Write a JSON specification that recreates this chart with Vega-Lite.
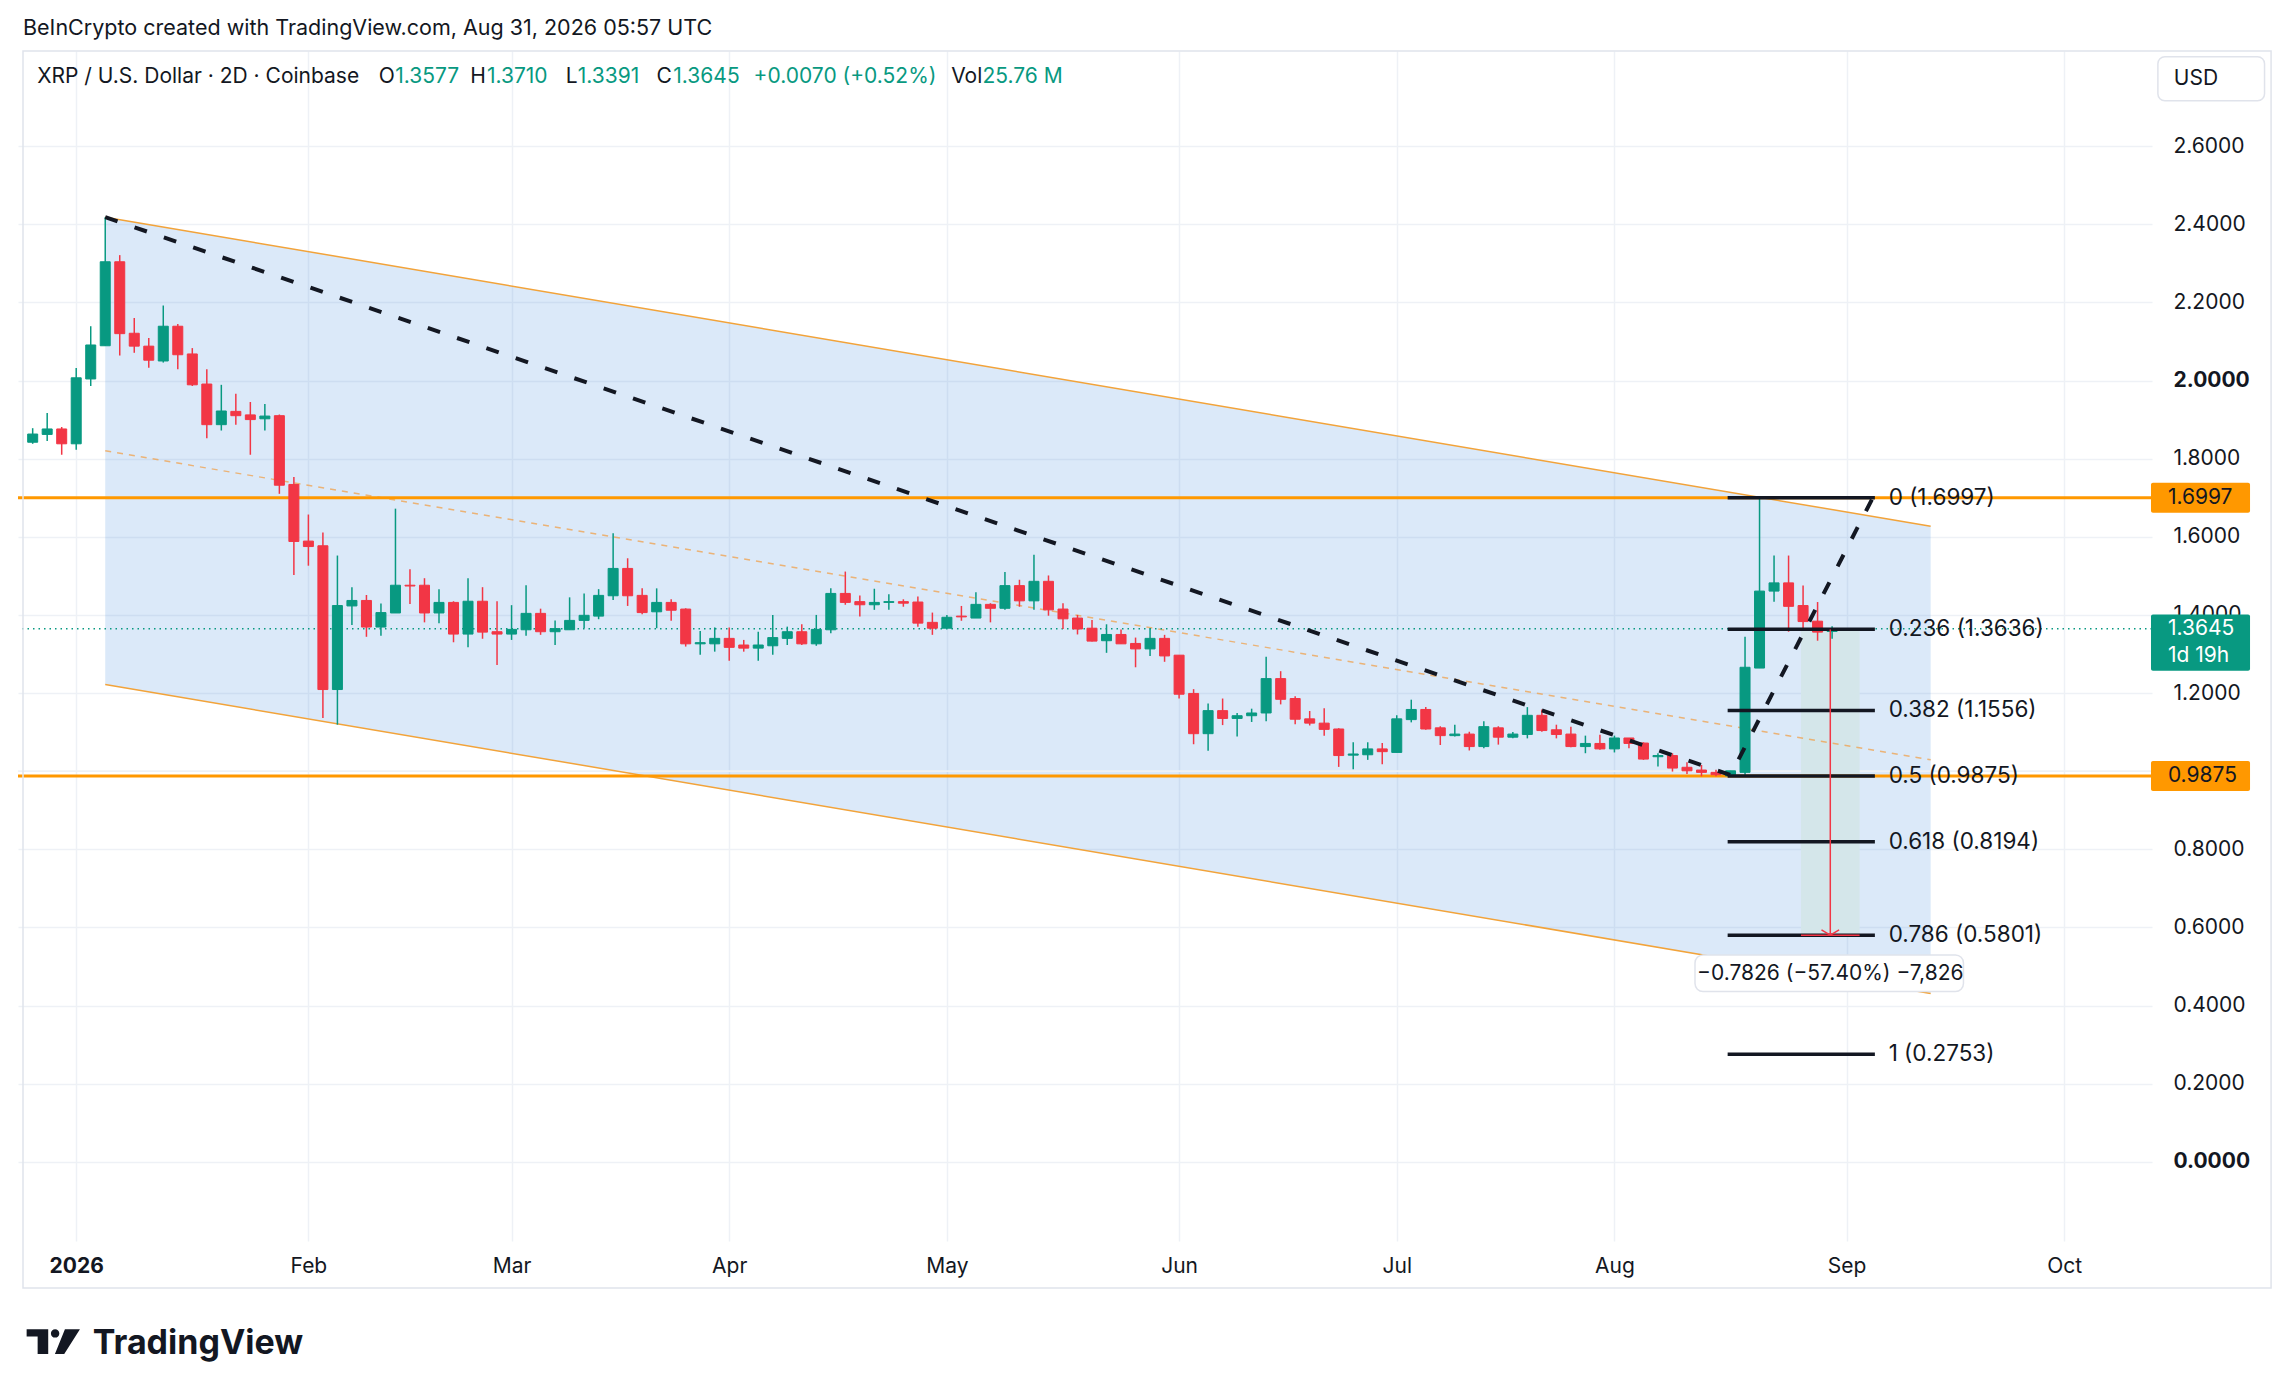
{
  "$schema": "https://vega.github.io/schema/vega-lite/v6.json",
  "width": 2134,
  "height": 1190,
  "autosize": {"type": "none"},
  "padding": {"left": 18, "top": 51, "right": 143, "bottom": 156},
  "background": "white",
  "config": {"view": {"stroke": null}, "font": "Inter", "text": {"font": "Inter", "color": "#131722"}},
  "datasets": {
    "ohlc": [
      {"t": "2025-12-26", "o": 1.842, "h": 1.878, "l": 1.838, "c": 1.863},
      {"t": "2025-12-28", "o": 1.862, "h": 1.917, "l": 1.845, "c": 1.876},
      {"t": "2025-12-30", "o": 1.876, "h": 1.881, "l": 1.810, "c": 1.838},
      {"t": "2026-01-01", "o": 1.838, "h": 2.032, "l": 1.823, "c": 2.007},
      {"t": "2026-01-03", "o": 2.004, "h": 2.139, "l": 1.986, "c": 2.091},
      {"t": "2026-01-05", "o": 2.089, "h": 2.418, "l": 2.089, "c": 2.304},
      {"t": "2026-01-07", "o": 2.304, "h": 2.321, "l": 2.064, "c": 2.120},
      {"t": "2026-01-09", "o": 2.121, "h": 2.160, "l": 2.071, "c": 2.088},
      {"t": "2026-01-11", "o": 2.088, "h": 2.109, "l": 2.033, "c": 2.052},
      {"t": "2026-01-13", "o": 2.050, "h": 2.192, "l": 2.046, "c": 2.139},
      {"t": "2026-01-15", "o": 2.139, "h": 2.145, "l": 2.029, "c": 2.066},
      {"t": "2026-01-17", "o": 2.068, "h": 2.083, "l": 1.986, "c": 1.989},
      {"t": "2026-01-19", "o": 1.991, "h": 2.029, "l": 1.852, "c": 1.887},
      {"t": "2026-01-21", "o": 1.887, "h": 1.989, "l": 1.872, "c": 1.922},
      {"t": "2026-01-23", "o": 1.921, "h": 1.966, "l": 1.887, "c": 1.910},
      {"t": "2026-01-25", "o": 1.912, "h": 1.945, "l": 1.810, "c": 1.900},
      {"t": "2026-01-27", "o": 1.902, "h": 1.940, "l": 1.872, "c": 1.909},
      {"t": "2026-01-29", "o": 1.910, "h": 1.913, "l": 1.710, "c": 1.732},
      {"t": "2026-01-31", "o": 1.734, "h": 1.753, "l": 1.502, "c": 1.588},
      {"t": "2026-02-02", "o": 1.589, "h": 1.657, "l": 1.526, "c": 1.575},
      {"t": "2026-02-04", "o": 1.577, "h": 1.611, "l": 1.136, "c": 1.209},
      {"t": "2026-02-06", "o": 1.209, "h": 1.552, "l": 1.119, "c": 1.424},
      {"t": "2026-02-08", "o": 1.423, "h": 1.471, "l": 1.374, "c": 1.437},
      {"t": "2026-02-10", "o": 1.437, "h": 1.451, "l": 1.344, "c": 1.369},
      {"t": "2026-02-12", "o": 1.369, "h": 1.429, "l": 1.347, "c": 1.406},
      {"t": "2026-02-14", "o": 1.405, "h": 1.672, "l": 1.405, "c": 1.476},
      {"t": "2026-02-16", "o": 1.476, "h": 1.517, "l": 1.428, "c": 1.474},
      {"t": "2026-02-18", "o": 1.476, "h": 1.494, "l": 1.381, "c": 1.405},
      {"t": "2026-02-20", "o": 1.405, "h": 1.466, "l": 1.379, "c": 1.432},
      {"t": "2026-02-22", "o": 1.432, "h": 1.435, "l": 1.330, "c": 1.351},
      {"t": "2026-02-24", "o": 1.351, "h": 1.494, "l": 1.317, "c": 1.435},
      {"t": "2026-02-26", "o": 1.435, "h": 1.471, "l": 1.339, "c": 1.356},
      {"t": "2026-02-28", "o": 1.357, "h": 1.435, "l": 1.272, "c": 1.351},
      {"t": "2026-03-02", "o": 1.351, "h": 1.425, "l": 1.336, "c": 1.363},
      {"t": "2026-03-04", "o": 1.362, "h": 1.476, "l": 1.347, "c": 1.404},
      {"t": "2026-03-06", "o": 1.404, "h": 1.416, "l": 1.349, "c": 1.357},
      {"t": "2026-03-08", "o": 1.357, "h": 1.386, "l": 1.323, "c": 1.365},
      {"t": "2026-03-10", "o": 1.362, "h": 1.445, "l": 1.362, "c": 1.386},
      {"t": "2026-03-12", "o": 1.386, "h": 1.455, "l": 1.366, "c": 1.399},
      {"t": "2026-03-14", "o": 1.397, "h": 1.466, "l": 1.389, "c": 1.450},
      {"t": "2026-03-16", "o": 1.449, "h": 1.609, "l": 1.438, "c": 1.519},
      {"t": "2026-03-18", "o": 1.519, "h": 1.545, "l": 1.423, "c": 1.449},
      {"t": "2026-03-20", "o": 1.450, "h": 1.468, "l": 1.402, "c": 1.406},
      {"t": "2026-03-22", "o": 1.408, "h": 1.468, "l": 1.366, "c": 1.432},
      {"t": "2026-03-24", "o": 1.432, "h": 1.440, "l": 1.385, "c": 1.412},
      {"t": "2026-03-26", "o": 1.415, "h": 1.417, "l": 1.319, "c": 1.326},
      {"t": "2026-03-28", "o": 1.326, "h": 1.359, "l": 1.298, "c": 1.329},
      {"t": "2026-03-30", "o": 1.326, "h": 1.368, "l": 1.306, "c": 1.340},
      {"t": "2026-04-01", "o": 1.340, "h": 1.368, "l": 1.283, "c": 1.317},
      {"t": "2026-04-03", "o": 1.323, "h": 1.336, "l": 1.306, "c": 1.315},
      {"t": "2026-04-05", "o": 1.315, "h": 1.357, "l": 1.283, "c": 1.323},
      {"t": "2026-04-07", "o": 1.321, "h": 1.400, "l": 1.298, "c": 1.342},
      {"t": "2026-04-09", "o": 1.340, "h": 1.370, "l": 1.323, "c": 1.357},
      {"t": "2026-04-11", "o": 1.357, "h": 1.376, "l": 1.323, "c": 1.326},
      {"t": "2026-04-13", "o": 1.326, "h": 1.400, "l": 1.321, "c": 1.363},
      {"t": "2026-04-15", "o": 1.362, "h": 1.468, "l": 1.353, "c": 1.455},
      {"t": "2026-04-17", "o": 1.455, "h": 1.511, "l": 1.426, "c": 1.432},
      {"t": "2026-04-19", "o": 1.434, "h": 1.450, "l": 1.396, "c": 1.426},
      {"t": "2026-04-21", "o": 1.426, "h": 1.467, "l": 1.413, "c": 1.432},
      {"t": "2026-04-23", "o": 1.432, "h": 1.453, "l": 1.413, "c": 1.434},
      {"t": "2026-04-25", "o": 1.434, "h": 1.440, "l": 1.421, "c": 1.430},
      {"t": "2026-04-27", "o": 1.433, "h": 1.447, "l": 1.370, "c": 1.379},
      {"t": "2026-04-29", "o": 1.381, "h": 1.406, "l": 1.349, "c": 1.366},
      {"t": "2026-05-01", "o": 1.366, "h": 1.400, "l": 1.366, "c": 1.394},
      {"t": "2026-05-03", "o": 1.397, "h": 1.423, "l": 1.385, "c": 1.395},
      {"t": "2026-05-05", "o": 1.392, "h": 1.458, "l": 1.392, "c": 1.427},
      {"t": "2026-05-07", "o": 1.427, "h": 1.430, "l": 1.381, "c": 1.417},
      {"t": "2026-05-09", "o": 1.417, "h": 1.510, "l": 1.413, "c": 1.475},
      {"t": "2026-05-11", "o": 1.475, "h": 1.490, "l": 1.421, "c": 1.436},
      {"t": "2026-05-13", "o": 1.436, "h": 1.554, "l": 1.413, "c": 1.486},
      {"t": "2026-05-15", "o": 1.486, "h": 1.501, "l": 1.398, "c": 1.413},
      {"t": "2026-05-17", "o": 1.415, "h": 1.430, "l": 1.364, "c": 1.390},
      {"t": "2026-05-19", "o": 1.392, "h": 1.400, "l": 1.350, "c": 1.364},
      {"t": "2026-05-21", "o": 1.366, "h": 1.387, "l": 1.332, "c": 1.333},
      {"t": "2026-05-23", "o": 1.334, "h": 1.376, "l": 1.303, "c": 1.350},
      {"t": "2026-05-25", "o": 1.350, "h": 1.363, "l": 1.326, "c": 1.326},
      {"t": "2026-05-27", "o": 1.327, "h": 1.342, "l": 1.266, "c": 1.313},
      {"t": "2026-05-29", "o": 1.313, "h": 1.366, "l": 1.295, "c": 1.340},
      {"t": "2026-05-31", "o": 1.340, "h": 1.349, "l": 1.280, "c": 1.295},
      {"t": "2026-06-02", "o": 1.297, "h": 1.297, "l": 1.186, "c": 1.197},
      {"t": "2026-06-04", "o": 1.199, "h": 1.210, "l": 1.069, "c": 1.096},
      {"t": "2026-06-06", "o": 1.096, "h": 1.173, "l": 1.052, "c": 1.155},
      {"t": "2026-06-08", "o": 1.155, "h": 1.186, "l": 1.118, "c": 1.135},
      {"t": "2026-06-10", "o": 1.135, "h": 1.149, "l": 1.089, "c": 1.142},
      {"t": "2026-06-12", "o": 1.142, "h": 1.160, "l": 1.126, "c": 1.149},
      {"t": "2026-06-14", "o": 1.149, "h": 1.293, "l": 1.128, "c": 1.237},
      {"t": "2026-06-16", "o": 1.237, "h": 1.256, "l": 1.171, "c": 1.184},
      {"t": "2026-06-18", "o": 1.186, "h": 1.192, "l": 1.120, "c": 1.133},
      {"t": "2026-06-20", "o": 1.134, "h": 1.154, "l": 1.117, "c": 1.123},
      {"t": "2026-06-22", "o": 1.123, "h": 1.161, "l": 1.091, "c": 1.107},
      {"t": "2026-06-24", "o": 1.108, "h": 1.110, "l": 1.011, "c": 1.040},
      {"t": "2026-06-26", "o": 1.041, "h": 1.074, "l": 1.005, "c": 1.044},
      {"t": "2026-06-28", "o": 1.042, "h": 1.074, "l": 1.029, "c": 1.057},
      {"t": "2026-06-30", "o": 1.057, "h": 1.072, "l": 1.018, "c": 1.050},
      {"t": "2026-07-02", "o": 1.048, "h": 1.143, "l": 1.048, "c": 1.134},
      {"t": "2026-07-04", "o": 1.132, "h": 1.183, "l": 1.125, "c": 1.158},
      {"t": "2026-07-06", "o": 1.158, "h": 1.164, "l": 1.106, "c": 1.108},
      {"t": "2026-07-08", "o": 1.111, "h": 1.115, "l": 1.067, "c": 1.091},
      {"t": "2026-07-10", "o": 1.091, "h": 1.119, "l": 1.089, "c": 1.095},
      {"t": "2026-07-12", "o": 1.095, "h": 1.101, "l": 1.053, "c": 1.063},
      {"t": "2026-07-14", "o": 1.063, "h": 1.128, "l": 1.059, "c": 1.114},
      {"t": "2026-07-16", "o": 1.111, "h": 1.115, "l": 1.068, "c": 1.087},
      {"t": "2026-07-18", "o": 1.087, "h": 1.100, "l": 1.084, "c": 1.095},
      {"t": "2026-07-20", "o": 1.094, "h": 1.164, "l": 1.084, "c": 1.143},
      {"t": "2026-07-22", "o": 1.143, "h": 1.158, "l": 1.101, "c": 1.104},
      {"t": "2026-07-24", "o": 1.106, "h": 1.119, "l": 1.084, "c": 1.094},
      {"t": "2026-07-26", "o": 1.095, "h": 1.114, "l": 1.061, "c": 1.063},
      {"t": "2026-07-28", "o": 1.063, "h": 1.091, "l": 1.046, "c": 1.071},
      {"t": "2026-07-30", "o": 1.071, "h": 1.093, "l": 1.055, "c": 1.057},
      {"t": "2026-08-01", "o": 1.057, "h": 1.091, "l": 1.048, "c": 1.085},
      {"t": "2026-08-03", "o": 1.085, "h": 1.085, "l": 1.059, "c": 1.071},
      {"t": "2026-08-05", "o": 1.072, "h": 1.074, "l": 1.029, "c": 1.031},
      {"t": "2026-08-07", "o": 1.037, "h": 1.046, "l": 1.012, "c": 1.040},
      {"t": "2026-08-09", "o": 1.040, "h": 1.046, "l": 0.999, "c": 1.008},
      {"t": "2026-08-11", "o": 1.010, "h": 1.023, "l": 0.993, "c": 1.001},
      {"t": "2026-08-13", "o": 1.003, "h": 1.016, "l": 0.987, "c": 0.997},
      {"t": "2026-08-15", "o": 0.997, "h": 1.004, "l": 0.987, "c": 0.991},
      {"t": "2026-08-17", "o": 0.988, "h": 1.001, "l": 0.9875, "c": 1.001},
      {"t": "2026-08-19", "o": 0.997, "h": 1.344, "l": 0.990, "c": 1.266},
      {"t": "2026-08-21", "o": 1.264, "h": 1.6997, "l": 1.264, "c": 1.461},
      {"t": "2026-08-23", "o": 1.461, "h": 1.552, "l": 1.434, "c": 1.482},
      {"t": "2026-08-25", "o": 1.482, "h": 1.552, "l": 1.357, "c": 1.422},
      {"t": "2026-08-27", "o": 1.424, "h": 1.475, "l": 1.362, "c": 1.383},
      {"t": "2026-08-29", "o": 1.384, "h": 1.433, "l": 1.334, "c": 1.356},
      {"t": "2026-08-31", "o": 1.3577, "h": 1.3710, "l": 1.3391, "c": 1.3645}
    ],
    "channel": [
      {"t": "2026-01-05", "p": 2.418, "p2": 1.222, "mid": 1.820},
      {"t": "2026-09-13T14:00:00Z", "p": 1.627, "p2": 0.431, "mid": 1.029}
    ],
    "trend": [
      {"t": "2026-01-05", "p": 2.418},
      {"t": "2026-08-17", "p": 0.99},
      {"t": "2026-09-05T14:30:00Z", "p": 1.6997}
    ],
    "levels": [{"p": 1.6997}, {"p": 0.9875}],
    "last": [{"p": 1.3645}],
    "fib": [
      {"lab": "0 (1.6997)", "p": 1.6997},
      {"lab": "0.236 (1.3636)", "p": 1.3636},
      {"lab": "0.382 (1.1556)", "p": 1.1556},
      {"lab": "0.5 (0.9875)", "p": 0.9875},
      {"lab": "0.618 (0.8194)", "p": 0.8194},
      {"lab": "0.786 (0.5801)", "p": 0.5801},
      {"lab": "1 (0.2753)", "p": 0.2753}
    ],
    "measure": [
      {"t": "2026-08-26T17:00:00Z", "t2": "2026-09-03T19:00:00Z", "tm": "2026-08-30T18:00:00Z", "p": 1.3627, "p2": 0.5801, "lab": "−0.7826 (−57.40%) −7,826"}
    ],
    "header": [
      {"txt": "XRP / U.S. Dollar · 2D · Coinbase", "t": "2025-12-26T15:00:00Z", "g": "k"},
      {"txt": "O", "t": "2026-02-11T17:00:00Z", "g": "k"},
      {"txt": "1.3577", "t": "2026-02-13T23:00:00Z", "g": "v"},
      {"txt": "H", "t": "2026-02-24T07:00:00Z", "g": "k"},
      {"txt": "1.3710", "t": "2026-02-26T14:30:00Z", "g": "v"},
      {"txt": "L", "t": "2026-03-09T11:30:00Z", "g": "k"},
      {"txt": "1.3391", "t": "2026-03-11T02:40:00Z", "g": "v"},
      {"txt": "C", "t": "2026-03-21T23:45:00Z", "g": "k"},
      {"txt": "1.3645", "t": "2026-03-24T07:00:00Z", "g": "v"},
      {"txt": "+0.0070 (+0.52%)", "t": "2026-04-04T08:40:00Z", "g": "v"},
      {"txt": "Vol", "t": "2026-05-01T14:10:00Z", "g": "k"},
      {"txt": "25.76 M", "t": "2026-05-05T21:30:00Z", "g": "v"}
    ],
    "levelTags": [{"p": 1.6997, "txt": "1.6997"}, {"p": 0.9875, "txt": "0.9875"}],
    "lastTag": [{"p": 1.3645, "txt": "1.3645"}, {"p": 1.2952, "txt": "1d 19h"}]
  },
  "layer": [
    {
      "data": {"name": "channel"},
      "mark": {"type": "area", "color": "#4a90e2", "opacity": 0.2},
      "encoding": {
        "x": {
          "field": "t", "type": "temporal",
          "scale": {"type": "utc", "domain": [1766592000000, 1791884160000]},
          "axis": {
            "title": null, "orient": "bottom", "domain": false, "ticks": false, "tickSize": 0,
            "values": [
              {"year": 2026, "month": 1, "date": 1, "utc": true},
              {"year": 2026, "month": 2, "date": 2, "utc": true},
              {"year": 2026, "month": 3, "date": 2, "utc": true},
              {"year": 2026, "month": 4, "date": 1, "utc": true},
              {"year": 2026, "month": 5, "date": 1, "utc": true},
              {"year": 2026, "month": 6, "date": 2, "utc": true},
              {"year": 2026, "month": 7, "date": 2, "utc": true},
              {"year": 2026, "month": 8, "date": 1, "utc": true},
              {"year": 2026, "month": 9, "date": 2, "utc": true},
              {"year": 2026, "month": 10, "date": 2, "utc": true}
            ],
            "labelExpr": "utcmonth(datum.value) == 0 ? '2026' : utcFormat(datum.value, '%b')",
            "labelFont": "Inter", "labelFontSize": 21, "labelColor": "#131722",
            "labelBaseline": "middle", "labelPadding": 25, "labelFlush": false, "labelOverlap": false,
            "labelFontWeight": {"condition": {"test": "utcmonth(datum.value) == 0", "value": "bold"}, "value": "normal"},
            "grid": true, "gridColor": "#eef1f6", "gridWidth": 1.5
          }
        },
        "y": {
          "field": "p", "type": "quantitative",
          "scale": {"domain": [-0.2026, 2.8435], "nice": false, "zero": false},
          "axis": {
            "title": null, "orient": "right", "domain": false, "ticks": false, "tickSize": 0,
            "values": [0, 0.2, 0.4, 0.6, 0.8, 1.2, 1.4, 1.6, 1.8, 2, 2.2, 2.4, 2.6],
            "format": ".4f", "labelAlign": "left", "labelPadding": 21,
            "labelFont": "Inter", "labelFontSize": 21, "labelColor": "#131722",
            "labelFontWeight": {"condition": {"test": "datum.value == 2 || datum.value == 0", "value": "bold"}, "value": "normal"},
            "grid": true, "gridColor": "#eef1f6", "gridWidth": 1.5
          }
        },
        "y2": {"field": "p2"}
      }
    },
    {
      "data": {"name": "levels"},
      "mark": {"type": "rule", "color": "#eef1f6", "strokeWidth": 1.5},
      "encoding": {"y": {"datum": 1, "type": "quantitative"}}
    },
    {
      "data": {"name": "measure"},
      "mark": {"type": "rect", "color": "#d4e6ea"},
      "encoding": {
        "x": {"field": "t", "type": "temporal"},
        "x2": {"field": "t2"},
        "y": {"field": "p", "type": "quantitative"},
        "y2": {"field": "p2"}
      }
    },
    {
      "data": {"name": "channel"},
      "mark": {"type": "line", "color": "#f2a33a", "strokeWidth": 1.5},
      "encoding": {"x": {"field": "t", "type": "temporal"}, "y": {"field": "p", "type": "quantitative"}}
    },
    {
      "data": {"name": "channel"},
      "mark": {"type": "line", "color": "#f2a33a", "strokeWidth": 1.5},
      "encoding": {"x": {"field": "t", "type": "temporal"}, "y": {"field": "p2", "type": "quantitative"}}
    },
    {
      "data": {"name": "channel"},
      "mark": {"type": "line", "color": "#f0a04b", "opacity": 0.75, "strokeWidth": 1.5, "strokeDash": [6, 6]},
      "encoding": {"x": {"field": "t", "type": "temporal"}, "y": {"field": "mid", "type": "quantitative"}}
    },
    {
      "data": {"name": "levels"},
      "mark": {"type": "rule", "color": "#ff9800", "strokeWidth": 3},
      "encoding": {"y": {"field": "p", "type": "quantitative"}}
    },
    {
      "data": {"name": "last"},
      "mark": {"type": "rule", "color": "#089981", "strokeWidth": 1.5, "strokeDash": [1.5, 4]},
      "encoding": {"y": {"field": "p", "type": "quantitative"}}
    },
    {
      "data": {"name": "ohlc"},
      "mark": {"type": "rule", "strokeWidth": 1.5},
      "encoding": {
        "x": {"field": "t", "type": "temporal"},
        "y": {"field": "l", "type": "quantitative"},
        "y2": {"field": "h"},
        "color": {"condition": {"test": "datum.c >= datum.o", "value": "#089981"}, "value": "#f23645"}
      }
    },
    {
      "data": {"name": "ohlc"},
      "mark": {"type": "bar", "size": 10, "strokeWidth": 1},
      "encoding": {
        "x": {"field": "t", "type": "temporal"},
        "y": {"field": "o", "type": "quantitative"},
        "y2": {"field": "c"},
        "color": {"condition": {"test": "datum.c >= datum.o", "value": "#089981"}, "value": "#f23645"},
        "stroke": {"condition": {"test": "datum.c >= datum.o", "value": "#089981"}, "value": "#f23645"}
      }
    },
    {
      "data": {"name": "trend"},
      "mark": {"type": "line", "color": "#131722", "strokeWidth": 4, "strokeDash": [13, 18]},
      "encoding": {"x": {"field": "t", "type": "temporal"}, "y": {"field": "p", "type": "quantitative"}}
    },
    {
      "data": {"name": "fib"},
      "mark": {"type": "rule", "color": "#131722", "strokeWidth": 3.5},
      "encoding": {
        "x": {"datum": {"year": 2026, "month": 8, "date": 16, "hours": 14, "minutes": 30, "utc": true}, "type": "temporal"},
        "x2": {"datum": {"year": 2026, "month": 9, "date": 5, "hours": 21, "minutes": 30, "utc": true}},
        "y": {"field": "p", "type": "quantitative"}
      }
    },
    {
      "data": {"name": "fib"},
      "mark": {"type": "text", "align": "left", "baseline": "middle", "fontSize": 22.5, "color": "#131722"},
      "encoding": {
        "x": {"datum": {"year": 2026, "month": 9, "date": 7, "hours": 19, "utc": true}, "type": "temporal"},
        "y": {"field": "p", "type": "quantitative"},
        "text": {"field": "lab"}
      }
    },
    {
      "data": {"name": "measure"},
      "mark": {"type": "rule", "color": "#f23645", "strokeWidth": 1.5},
      "encoding": {
        "x": {"field": "tm", "type": "temporal"},
        "y": {"field": "p", "type": "quantitative"},
        "y2": {"field": "p2"}
      }
    },
    {
      "data": {"name": "measure"},
      "mark": {"type": "rule", "color": "#f23645", "strokeWidth": 1.5},
      "encoding": {
        "x": {"field": "t", "type": "temporal"},
        "x2": {"field": "t2"},
        "y": {"field": "p2", "type": "quantitative"}
      }
    },
    {
      "data": {"name": "measure"},
      "mark": {"type": "point", "shape": "M-1,-0.6L0,0L1,-0.6", "size": 310, "filled": false, "color": "#f23645", "strokeWidth": 1.5, "opacity": 1},
      "encoding": {
        "x": {"field": "tm", "type": "temporal"},
        "y": {"field": "p2", "type": "quantitative"}
      }
    },
    {
      "data": {"name": "measure"},
      "mark": {"type": "rect", "fill": "white", "stroke": "#e0e3eb", "strokeWidth": 1.5, "cornerRadius": 8},
      "encoding": {
        "x": {"datum": {"year": 2026, "month": 8, "date": 12, "hours": 2, "minutes": 30, "utc": true}, "type": "temporal"},
        "x2": {"datum": {"year": 2026, "month": 9, "date": 18, "hours": 2, "minutes": 30, "utc": true}},
        "y": {"datum": 0.5298, "type": "quantitative"},
        "y2": {"datum": 0.4359}
      }
    },
    {
      "data": {"name": "measure"},
      "mark": {"type": "text", "align": "center", "baseline": "middle", "fontSize": 21, "color": "#131722"},
      "encoding": {
        "x": {"field": "tm", "type": "temporal"},
        "y": {"datum": 0.4812, "type": "quantitative"},
        "text": {"field": "lab"}
      }
    },
    {
      "data": {"name": "header"},
      "mark": {"type": "text", "align": "left", "baseline": "middle", "fontSize": 21},
      "encoding": {
        "x": {"field": "t", "type": "temporal"},
        "y": {"datum": 2.7767, "type": "quantitative"},
        "text": {"field": "txt"},
        "color": {"field": "g", "type": "nominal", "scale": {"domain": ["k", "v"], "range": ["#131722", "#089981"]}, "legend": null}
      }
    },
    {
      "data": {"name": "last"},
      "mark": {"type": "text", "align": "left", "baseline": "middle", "fontSize": 21.5, "color": "#131722"},
      "encoding": {
        "x": {"datum": {"year": 2025, "month": 12, "date": 24, "hours": 16, "utc": true}, "type": "temporal"},
        "y": {"datum": 2.8996, "type": "quantitative"},
        "text": {"value": "BeInCrypto created with TradingView.com, Aug 31, 2026 05:57 UTC"}
      }
    },
    {
      "data": {"name": "last"},
      "mark": {"type": "rect", "color": "#ff9800", "cornerRadius": 2},
      "encoding": {
        "x": {"datum": {"year": 2026, "month": 10, "date": 13, "hours": 22, "minutes": 48, "utc": true}, "type": "temporal"},
        "x2": {"datum": {"year": 2026, "month": 10, "date": 27, "hours": 14, "minutes": 24, "utc": true}},
        "y": {"datum": 1.7381, "type": "quantitative"},
        "y2": {"datum": 1.6613}
      }
    },
    {
      "data": {"name": "last"},
      "mark": {"type": "rect", "color": "#ff9800", "cornerRadius": 2},
      "encoding": {
        "x": {"datum": {"year": 2026, "month": 10, "date": 13, "hours": 22, "minutes": 48, "utc": true}, "type": "temporal"},
        "x2": {"datum": {"year": 2026, "month": 10, "date": 27, "hours": 14, "minutes": 24, "utc": true}},
        "y": {"datum": 1.0259, "type": "quantitative"},
        "y2": {"datum": 0.9491}
      }
    },
    {
      "data": {"name": "last"},
      "mark": {"type": "rect", "color": "#089981", "cornerRadius": 2},
      "encoding": {
        "x": {"datum": {"year": 2026, "month": 10, "date": 13, "hours": 22, "minutes": 48, "utc": true}, "type": "temporal"},
        "x2": {"datum": {"year": 2026, "month": 10, "date": 27, "hours": 14, "minutes": 24, "utc": true}},
        "y": {"datum": 1.4012, "type": "quantitative"},
        "y2": {"datum": 1.2574}
      }
    },
    {
      "data": {"name": "levelTags"},
      "mark": {"type": "text", "align": "left", "baseline": "middle", "fontSize": 21, "color": "#131722"},
      "encoding": {
        "x": {"datum": {"year": 2026, "month": 10, "date": 16, "hours": 6, "minutes": 43, "utc": true}, "type": "temporal"},
        "y": {"field": "p", "type": "quantitative"},
        "text": {"field": "txt"}
      }
    },
    {
      "data": {"name": "lastTag"},
      "mark": {"type": "text", "align": "left", "baseline": "middle", "fontSize": 21, "color": "white"},
      "encoding": {
        "x": {"datum": {"year": 2026, "month": 10, "date": 16, "hours": 6, "minutes": 43, "utc": true}, "type": "temporal"},
        "y": {"field": "p", "type": "quantitative"},
        "text": {"field": "txt"}
      }
    },
    {
      "data": {"name": "last"},
      "mark": {"type": "rect", "fill": "white", "stroke": "#e0e3eb", "strokeWidth": 1.5, "cornerRadius": 7},
      "encoding": {
        "x": {"datum": {"year": 2026, "month": 10, "date": 14, "hours": 21, "minutes": 36, "utc": true}, "type": "temporal"},
        "x2": {"datum": {"year": 2026, "month": 10, "date": 29, "hours": 14, "minutes": 24, "utc": true}},
        "y": {"datum": 2.8287, "type": "quantitative"},
        "y2": {"datum": 2.716}
      }
    },
    {
      "data": {"name": "last"},
      "mark": {"type": "text", "align": "left", "baseline": "middle", "fontSize": 21, "color": "#131722"},
      "encoding": {
        "x": {"datum": {"year": 2026, "month": 10, "date": 17, "hours": 2, "minutes": 24, "utc": true}, "type": "temporal"},
        "y": {"datum": 2.772, "type": "quantitative"},
        "text": {"value": "USD"}
      }
    },
    {
      "data": {"name": "last"},
      "mark": {"type": "rect", "filled": false, "stroke": "#e0e3eb", "strokeWidth": 1.5},
      "encoding": {
        "x": {"datum": {"year": 2025, "month": 12, "date": 24, "hours": 16, "utc": true}, "type": "temporal"},
        "x2": {"datum": {"year": 2026, "month": 10, "date": 30, "hours": 12, "utc": true}},
        "y": {"datum": 2.8435, "type": "quantitative"},
        "y2": {"datum": -0.3227}
      }
    },
    {
      "data": {"name": "last"},
      "mark": {"type": "point", "shape": "M-1,-0.463L-0.19,-0.463L-0.19,0.463L-0.587,0.463L-0.587,-0.186L-1,-0.186Z M-0.089,-0.306A0.158,0.158 0 1 0 0.227,-0.306A0.158,0.158 0 1 0 -0.089,-0.306Z M0.437,-0.463L1,-0.463L0.411,0.463L0.062,0.463Z", "size": 2841, "filled": true, "color": "#131722", "opacity": 1, "strokeWidth": 0},
      "encoding": {
        "x": {"datum": {"year": 2025, "month": 12, "date": 28, "hours": 20, "minutes": 10, "utc": true}, "type": "temporal"},
        "y": {"datum": -0.46, "type": "quantitative"}
      }
    },
    {
      "data": {"name": "last"},
      "mark": {"type": "text", "align": "left", "baseline": "alphabetic", "fontSize": 34, "fontWeight": 700, "color": "#131722"},
      "encoding": {
        "x": {"datum": {"year": 2026, "month": 1, "date": 3, "hours": 6, "minutes": 40, "utc": true}, "type": "temporal"},
        "y": {"datum": -0.4917, "type": "quantitative"},
        "text": {"value": "TradingView"}
      }
    }
  ]
}
